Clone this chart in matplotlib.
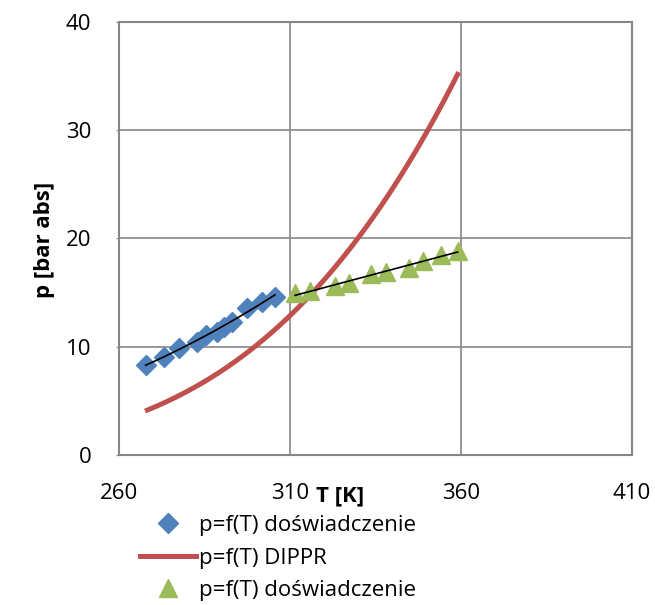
import numpy as np
import matplotlib
matplotlib.use("Agg")
import matplotlib.pyplot as plt

plt.rcParams['font.family'] = ['Open Sans', 'DejaVu Sans']

# measured data (blue diamonds)
T_exp1 = [267.8, 273.1, 277.5, 282.8, 285.3, 288.7, 290.6, 293.0, 297.4, 301.8, 305.6]
p_exp1 = [8.32, 9.03, 9.86, 10.47, 11.09, 11.40, 11.86, 12.32, 13.56, 14.17, 14.57]

# DIPPR correlation (red line)
T_dippr = [268.3, 275.0, 282.7, 290.0, 300.0, 310.0, 319.7, 329.4, 339.1, 349.8, 359.0]
p_dippr = [4.20, 5.00, 6.40, 7.80, 10.00, 12.80, 16.10, 20.00, 24.40, 29.80, 34.80]

# measured data (green triangles)
T_exp2 = [311.5, 315.8, 323.1, 327.3, 333.6, 338.2, 344.8, 348.8, 354.2, 359.0]
p_exp2 = [14.94, 15.16, 15.62, 15.92, 16.70, 16.94, 17.25, 17.93, 18.48, 18.88]

labels = ["p=f(T) doświadczenie", "p=f(T) DIPPR", "p=f(T) doświadczenie"]
x_ticks = [260, 310, 360, 410]
y_ticks = [0, 10, 20, 30, 40]

blue = '#4F81BD'
red = '#C0504D'
green = '#9BBB59'
gray = '#868686'

fig = plt.figure(figsize=(6.55, 6.05), dpi=100)
ax = fig.add_axes([119 / 655, 1 - 455 / 605, 513 / 655, 433 / 605])

ax.plot(T_exp1, p_exp1, linestyle='none', marker='D', ms=10, color=blue,
        label=labels[0], zorder=3)

# smoothed line through the DIPPR points (like Excel's smoothed line)
cd = np.polyfit(1 / np.array(T_dippr), np.log(p_dippr), 2)
td = np.linspace(T_dippr[0], T_dippr[-1], 200)
ax.plot(td, np.exp(np.polyval(cd, 1 / td)), color=red, lw=3.6,
        label=labels[1], zorder=2)

ax.plot(T_exp2, p_exp2, linestyle='none', marker='^', ms=13, color=green,
        label=labels[2], zorder=3)

# trend lines
c1 = np.polyfit(T_exp1, p_exp1, 2)
t1 = np.linspace(T_exp1[0], T_exp1[-1], 50)
ax.plot(t1, np.polyval(c1, t1), color='black', lw=1.2, zorder=4)
c2 = np.polyfit(T_exp2, p_exp2, 1)
t2 = np.linspace(T_exp2[0], T_exp2[-1], 50)
ax.plot(t2, np.polyval(c2, t2), color='black', lw=1.2, zorder=4)

ax.set_xlim(260, 410)
ax.set_ylim(0, 40)
ax.set_xticks(x_ticks)
ax.set_yticks(y_ticks)
ax.grid(True, color=gray, lw=1.2)
ax.set_axisbelow(True)
for s in ax.spines.values():
    s.set_color(gray)
    s.set_linewidth(1.5)
ax.tick_params(axis='y', length=2, color=gray, pad=18, labelsize=16)
ax.tick_params(axis='x', length=0, pad=20, labelsize=16)

ax.set_xlabel("T [K]", fontsize=16, fontweight='bold', va='center')
ax.xaxis.set_label_coords((340 - 119) / 513, (455 - 496) / 433)
ax.set_ylabel("p [bar abs]", fontsize=16, fontweight='bold', va='center')
ax.yaxis.set_label_coords((45 - 119) / 513, (455 - 240) / 433)

ax.legend(loc='upper left', bbox_to_anchor=(140 / 655, 1 - 515 / 605),
          bbox_transform=fig.transFigure, frameon=False, fontsize=16,
          handlelength=2.5, handletextpad=0.15, borderpad=0, borderaxespad=0,
          labelspacing=0.52)

fig.savefig("out.png", dpi=100)
